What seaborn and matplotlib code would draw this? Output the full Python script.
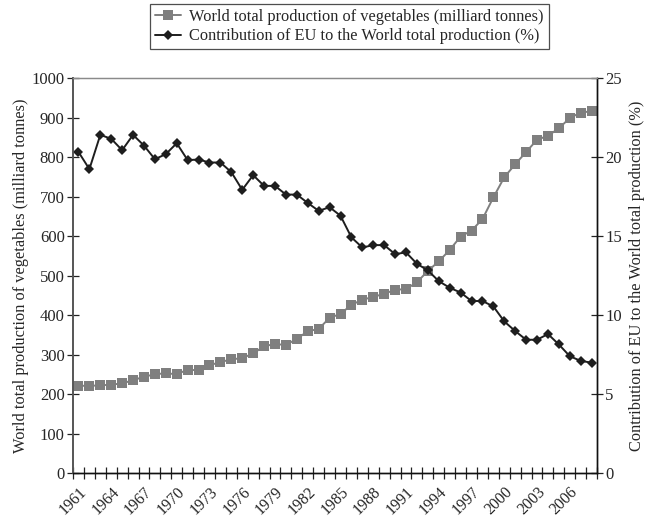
import numpy as np
import pandas as pd
import seaborn as sns
import matplotlib
matplotlib.use("Agg")
import matplotlib.pyplot as plt
from matplotlib.ticker import FixedLocator

years = list(range(1961, 2009))

# World total production of vegetables (milliard tonnes)
world_production = [
    221, 221, 222, 224, 227, 235, 244, 250, 253, 250,
    262, 260, 273, 281, 288, 291, 303, 321, 327, 324,
    340, 359, 365, 393, 403, 426, 439, 446, 454, 464,
    466, 483, 512, 536, 565, 599, 614, 643, 698, 749,
    782, 813, 844, 854, 873, 899, 913, 916,
]

# Contribution of EU to the world total production (%)
eu_share = [
    20.33, 19.24, 21.41, 21.16, 20.44, 21.41, 20.73, 19.87, 20.19, 20.88,
    19.81, 19.85, 19.66, 19.66, 19.05, 17.93, 18.86, 18.18, 18.18, 17.63,
    17.63, 17.10, 16.60, 16.83, 16.29, 14.92, 14.28, 14.43, 14.43, 13.86,
    13.97, 13.25, 12.83, 12.15, 11.73, 11.43, 10.89, 10.89, 10.55, 9.60,
    8.99, 8.44, 8.44, 8.80, 8.14, 7.40, 7.10, 6.99,
]

label_world = "World total production of vegetables (milliard tonnes)"
label_eu = "Contribution of EU to the World total production (%)"

df = pd.DataFrame({"pos": np.arange(len(years)), "year": years,
                   "world": world_production, "eu": eu_share})

sns.set_style("ticks")
plt.rcParams["font.family"] = ["Liberation Serif", "DejaVu Serif"]

fig = plt.figure(figsize=(6.49, 5.21), dpi=100)
ax = fig.add_axes([0.1125, 0.092, 0.8075, 0.758])
ax2 = ax.twinx()

sns.lineplot(data=df, x="pos", y="world", ax=ax, color="#7f7f7f",
             marker="s", markersize=6.5, markeredgewidth=0, linewidth=1.4,
             label=label_world, legend=False)
sns.lineplot(data=df, x="pos", y="eu", ax=ax2, color="#1e1e1e",
             marker="D", markersize=5.2, markeredgewidth=0, linewidth=1.4,
             label=label_eu, legend=False)

n = len(years)
ax.set_xlim(-0.5, n - 0.5)
ax.set_ylim(0, 1000)
ax2.set_ylim(0, 25)
ax.set_yticks(np.arange(0, 1001, 100))
ax2.set_yticks(np.arange(0, 26, 5))

# tick marks between categories, year labels every third category
ax.xaxis.set_major_locator(FixedLocator(np.arange(n + 1) - 0.5))
ax.set_xticklabels([])
label_pos = [i for i, y in enumerate(years) if (y - 1961) % 3 == 0]
ax.xaxis.set_minor_locator(FixedLocator(label_pos))
ax.set_xticklabels([str(years[i]) for i in label_pos], minor=True,
                   rotation=45, ha="right", va="top", rotation_mode="anchor",
                   fontsize=11.5)
ax.tick_params(axis="x", which="minor", length=0, pad=8)
ax.tick_params(axis="x", which="major", direction="inout", length=8,
               width=0.9, color="#222222")

ax.tick_params(axis="y", direction="inout", length=8, width=0.9,
               color="#222222", labelsize=12, pad=2)
ax2.tick_params(axis="y", direction="inout", length=8, width=0.9,
                color="#222222", labelsize=12, pad=2)

ax.set_xlabel("")
ax.set_ylabel(label_world, fontsize=11.8, labelpad=2)
ax2.set_ylabel(label_eu, fontsize=11.8, labelpad=5)

for a in (ax, ax2):
    a.spines["top"].set_visible(True)
    a.spines["top"].set_color("#8a8a8a")
    a.spines["top"].set_linewidth(0.9)
    a.spines["left"].set_color("#555555")
    a.spines["left"].set_linewidth(1.2)
    a.spines["bottom"].set_color("#111111")
    a.spines["bottom"].set_linewidth(1.0)
    a.spines["right"].set_color("#111111")
    a.spines["right"].set_linewidth(1.0)
    a.spines["right"].set_visible(True)

h1, l1 = ax.get_legend_handles_labels()
h2, l2 = ax2.get_legend_handles_labels()
leg = fig.legend(h1 + h2, l1 + l2, loc="upper center",
                 bbox_to_anchor=(0.5385, 0.992), fontsize=11.8,
                 frameon=True, fancybox=False, edgecolor="#222222",
                 handlelength=1.6, handletextpad=0.5, borderpad=0.3,
                 labelspacing=0.2, borderaxespad=0)
leg.get_frame().set_linewidth(0.9)

fig.savefig("out.png", dpi=100)
